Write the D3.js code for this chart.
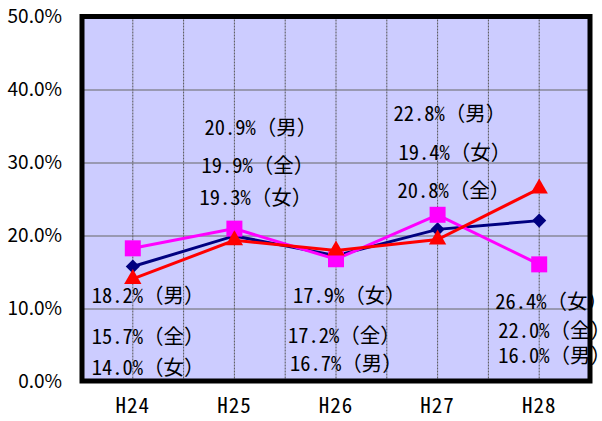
<!DOCTYPE html>
<html>
<head>
<meta charset="utf-8">
<script src="https://cdn.jsdelivr.net/npm/d3@7"></script>
<style>
  body { margin: 0; background: #fff; }
  svg { display: block; }
  text { font-family: "Noto Sans Mono CJK JP", "Noto Sans CJK JP", sans-serif; }
  .yax text { font-family: "Noto Sans CJK JP", sans-serif; }
</style>
</head>
<body>
<div id="chart"></div>
<script>
// data
var years = ["H24", "H25", "H26", "H27", "H28"];
var allValues = [15.7, 19.9, 17.2, 20.8, 22.0];    // 全
var maleValues = [18.2, 20.9, 16.7, 22.8, 16.0];   // 男
var femaleValues = [14.0, 19.3, 17.9, 19.4, 26.4]; // 女
var yTicks = [0, 10, 20, 30, 40, 50];

// label text per year, top to bottom
var labelTexts = [
  ["18.2%（男）", "15.7%（全）", "14.0%（女）"],
  ["20.9%（男）", "19.9%（全）", "19.3%（女）"],
  ["17.9%（女）", "17.2%（全）", "16.7%（男）"],
  ["22.8%（男）", "19.4%（女）", "20.8%（全）"],
  ["26.4%（女）", "22.0%（全）", "16.0%（男）"]
];

var W = 602, H = 421;
var margin = {top: 16.5, right: 12, bottom: 40, left: 82};
var width = W - margin.left - margin.right,
    height = H - margin.top - margin.bottom;

var svg = d3.select("#chart")
  .append("svg")
  .attr("width", W)
  .attr("height", H);

var g = svg.append("g")
  .attr("transform", "translate(" + margin.left + "," + margin.top + ")");

var x = d3.scaleBand()
  .domain(years)
  .range([0, width]);

var y = d3.scaleLinear()
  .domain([0, 50])
  .range([height, 0]);

var cx = function(d, i) { return x(years[i]) + x.bandwidth() / 2; };

// plot background
g.append("rect")
  .attr("width", width)
  .attr("height", height)
  .attr("fill", "#ccccff");

// vertical dotted grid, at category centres and boundaries
var vLines = [];
years.forEach(function(yr, i) {
  vLines.push(x(yr) + x.bandwidth() / 2);
  if (i > 0) vLines.push(x(yr));
});
g.selectAll(".vgrid")
  .data(vLines)
  .enter().append("line")
  .attr("x1", function(d) { return d; })
  .attr("x2", function(d) { return d; })
  .attr("y1", 0)
  .attr("y2", height)
  .attr("stroke", "#555")
  .attr("stroke-width", 1)
  .attr("stroke-dasharray", "2,1");

// horizontal grid
g.selectAll(".hgrid")
  .data(yTicks.slice(1, -1))
  .enter().append("line")
  .attr("x1", 0)
  .attr("x2", width)
  .attr("y1", function(d) { return Math.round(y(d)) + 0.5; })
  .attr("y2", function(d) { return Math.round(y(d)) + 0.5; })
  .attr("stroke", "#666")
  .attr("stroke-width", 1.2);

// axes
var yAxis = d3.axisLeft(y)
  .tickValues(yTicks)
  .tickSize(0)
  .tickPadding(20)
  .tickFormat(function(d) { return d.toFixed(1) + "%"; });

g.append("g")
  .attr("class", "yax")
  .call(yAxis)
  .attr("font-family", null)
  .call(function(a) { a.select(".domain").remove(); })
  .selectAll("text")
  .attr("font-size", "19px")
  .attr("fill", "#000");

var xAxis = d3.axisBottom(x).tickSize(0).tickPadding(17);
g.append("g")
  .attr("transform", "translate(0," + height + ")")
  .call(xAxis)
  .attr("font-family", null)
  .call(function(a) { a.select(".domain").remove(); })
  .selectAll("text")
  .attr("font-size", "21px")
  .attr("letter-spacing", "1px")
  .attr("fill", "#000");

// series
var line = d3.line()
  .x(cx)
  .y(function(d) { return y(d); });

function drawLine(values, color) {
  g.append("path")
    .datum(values)
    .attr("d", line)
    .attr("fill", "none")
    .attr("stroke", color)
    .attr("stroke-width", 3);
}

function drawMarkers(values, color, shape, size, rot) {
  g.selectAll(null)
    .data(values)
    .enter().append("path")
    .attr("d", d3.symbol().type(shape).size(size))
    .attr("transform", function(d, i) {
      return "translate(" + cx(d, i) + "," + y(d) + ") rotate(" + rot + ")";
    })
    .attr("fill", color);
}

drawLine(allValues, "#000080");
drawMarkers(allValues, "#000080", d3.symbolSquare, 100, 45);
drawLine(maleValues, "#ff00ff");
drawMarkers(maleValues, "#ff00ff", d3.symbolSquare, 256, 0);
drawLine(femaleValues, "#ff0000");
drawMarkers(femaleValues, "#ff0000", d3.symbolTriangle, 130, 0);

// frame
g.append("rect")
  .attr("width", width)
  .attr("height", height)
  .attr("fill", "none")
  .attr("stroke", "#000")
  .attr("stroke-width", 5);

// value labels: offset from category centre, baseline in % units
var labelDx = [
  [-41, -41, -41],
  [-30, -33, -35],
  [-43, -48, -46],
  [-44, -39, -40],
  [-44, -41, -41]
];
var labelAt = [
  [10.7, 5.1, 0.8],
  [33.7, 28.5, 24.1],
  [10.7, 5.2, 1.4],
  [35.7, 30.3, 25.1],
  [9.9, 5.9, 2.5]
];

var labels = [];
years.forEach(function(yr, i) {
  labelTexts[i].forEach(function(t, j) {
    labels.push({year: yr, text: t, dx: labelDx[i][j], at: labelAt[i][j]});
  });
});

g.selectAll(".vlabel")
  .data(labels)
  .enter().append("text")
  .attr("class", "vlabel")
  .attr("x", function(d) { return x(d.year) + x.bandwidth() / 2 + d.dx; })
  .attr("y", function(d) { return y(d.at); })
  .attr("font-size", "20.5px")
  .attr("fill", "#000")
  .text(function(d) { return d.text; });
</script>
</body>
</html>
